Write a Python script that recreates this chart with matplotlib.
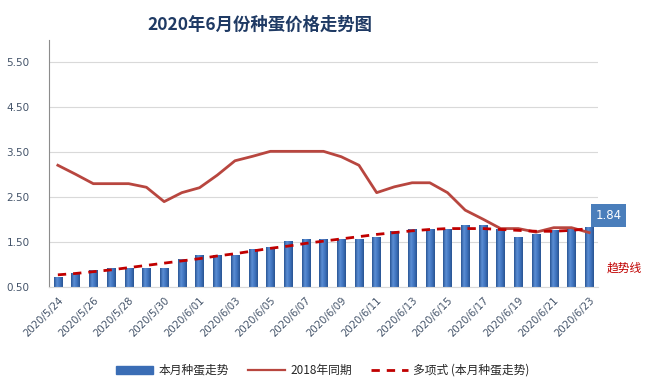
import numpy as np
import matplotlib
matplotlib.use('Agg')
import matplotlib.pyplot as plt
import matplotlib.transforms as mtransforms
from matplotlib.patches import Patch
from matplotlib.lines import Line2D
from matplotlib.colors import LinearSegmentedColormap

plt.rcParams['font.family'] = ['Noto Sans CJK SC', 'DejaVu Sans']

# dates 2020/5/24 .. 2020/6/23
dates = ['2020/5/24', '2020/5/25', '2020/5/26', '2020/5/27', '2020/5/28', '2020/5/29',
         '2020/5/30', '2020/5/31', '2020/6/01', '2020/6/02', '2020/6/03', '2020/6/04',
         '2020/6/05', '2020/6/06', '2020/6/07', '2020/6/08', '2020/6/09', '2020/6/10',
         '2020/6/11', '2020/6/12', '2020/6/13', '2020/6/14', '2020/6/15', '2020/6/16',
         '2020/6/17', '2020/6/18', '2020/6/19', '2020/6/20', '2020/6/21', '2020/6/22',
         '2020/6/23']

# 本月种蛋走势
price_2020 = [0.73, 0.80, 0.88, 0.92, 0.92, 0.92, 0.92, 1.12, 1.21, 1.21, 1.21, 1.34,
              1.40, 1.53, 1.57, 1.57, 1.57, 1.57, 1.62, 1.75, 1.80, 1.80, 1.80, 1.88,
              1.88, 1.78, 1.62, 1.69, 1.77, 1.80, 1.84]

# 2018年同期
price_2018 = [3.21, 3.01, 2.80, 2.80, 2.80, 2.72, 2.40, 2.60, 2.71, 2.99, 3.31, 3.41,
              3.52, 3.52, 3.52, 3.52, 3.40, 3.21, 2.60, 2.73, 2.82, 2.82, 2.60, 2.21,
              2.01, 1.80, 1.80, 1.72, 1.82, 1.82, 1.71]

# 多项式 (本月种蛋走势)
trend = [0.77, 0.80, 0.84, 0.88, 0.93, 0.98, 1.03, 1.08, 1.13, 1.19, 1.24, 1.30,
         1.36, 1.41, 1.47, 1.52, 1.57, 1.62, 1.67, 1.71, 1.75, 1.78, 1.80, 1.80,
         1.80, 1.78, 1.76, 1.74, 1.74, 1.76, 1.80]

yticks = [0.5, 1.5, 2.5, 3.5, 4.5, 5.5]

fig = plt.figure(figsize=(6.49, 3.92), dpi=100)
ax = fig.add_axes([0.0755, 0.268, 0.846, 0.63])

x = np.arange(len(dates))
bw = 0.47
bars = ax.bar(x, np.array(price_2020) - 0.5, bottom=0.5, width=bw,
              color='#3A6DB5', zorder=2)

# horizontal gradient like the Excel bars
cmap = LinearSegmentedColormap.from_list('g', ['#2B5797', '#5B8ED4', '#3F74BF', '#2A5593'])
grad = np.linspace(0, 1, 32).reshape(1, -1)
for b in bars:
    bx, by = b.get_x(), b.get_y()
    im = ax.imshow(grad, cmap=cmap, aspect='auto', zorder=2.1,
                   extent=[bx, bx + b.get_width(), by, by + b.get_height()])
    im.set_clip_path(b)

ax.plot(x, price_2018, color='#B8463F', lw=2.0, zorder=3, solid_joinstyle='round')
ax.plot(x, trend, color='#C00000', lw=2.0, ls=(0, (3, 2.5)), zorder=4)

ax.set_xlim(-0.5, 30.5)
ax.set_ylim(0.5, 6.0)
ax.set_yticks(yticks)
ax.set_yticklabels(['%.2f' % v for v in yticks], fontsize=7.5, color='#44546A',
                   family='DejaVu Sans')
ax.set_xticks(x[::2])
ax.set_xticklabels(dates[::2], rotation=45, ha='right', rotation_mode='anchor',
                   fontsize=7.3, color='#44546A', family='DejaVu Sans')
shift = mtransforms.ScaledTranslation(-9 / 100, -12 / 100, fig.dpi_scale_trans)
for lab in ax.get_xticklabels():
    lab.set_transform(lab.get_transform() + shift)
ax.tick_params(axis='both', length=0, pad=6)
ax.tick_params(axis='y', pad=14)
ax.grid(axis='y', color='#D9D9D9', lw=0.8, zorder=0)
for s in ['top', 'right']:
    ax.spines[s].set_visible(False)
ax.spines['left'].set_color('#8C8C8C')
ax.spines['bottom'].set_color('#D9D9D9')

# data label for last bar
ax.annotate('1.84', xy=(30, price_2020[-1]), xytext=(14, 8), textcoords='offset points',
            ha='center', va='center', fontsize=8.5, color='white', family='DejaVu Sans',
            bbox=dict(boxstyle='square,pad=0.4', fc='#4A7EBB', ec='none'),
            annotation_clip=False)

fig.text(0.935, 0.315, '趋势线', color='#C00000', fontsize=8.5, ha='left', va='center')

fig.text(0.40, 0.937, '2020年6月份种蛋价格走势图', fontsize=12.5, fontweight='bold',
         color='#1F3A64', ha='center', va='center')

handles = [Patch(color='#3A6DB5'),
           Line2D([], [], color='#B8463F', lw=1.6),
           Line2D([], [], color='#C00000', lw=2.0, ls=(0, (3, 2.5)))]
labels = ['本月种蛋走势', '2018年同期', '多项式 (本月种蛋走势)']
fig.legend(handles, labels, loc='center', bbox_to_anchor=(0.497, 0.055), ncol=3,
           frameon=False, fontsize=8.5, handlelength=3.2, handletextpad=0.4,
           columnspacing=1.6, labelcolor='#262626')

fig.savefig('out.png', dpi=100, facecolor='white')
